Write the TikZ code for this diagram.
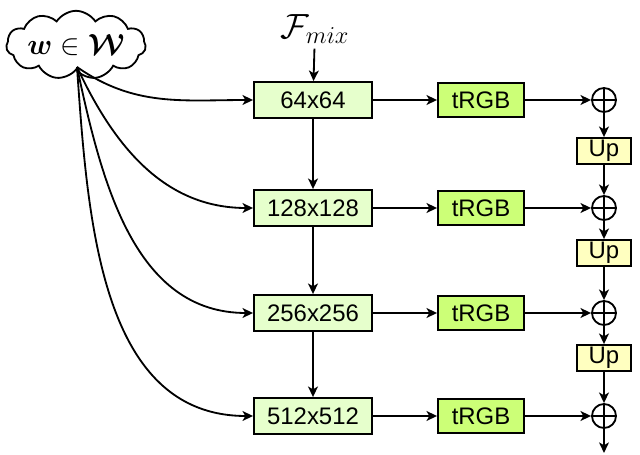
\documentclass[tikz,border=0pt]{standalone}
\usepackage{amsmath}
\usepackage{bm}
\usepackage{fontspec}
\setmainfont{Liberation Sans}
\usetikzlibrary{arrows.meta,shapes,shapes.symbols,positioning}
\definecolor{resgreen}{RGB}{230,255,204}
\definecolor{rgbgreen}{RGB}{204,255,119}
\definecolor{upyellow}{RGB}{255,255,192}
\tikzstyle{arrow} = [line width=1.3pt,->,>={Stealth[length=7.5pt,width=7pt,inset=2pt]}]
\tikzstyle{resbox} = [draw, line width=1.3pt, fill=resgreen, minimum width=2.95cm, minimum height=0.9cm, font=\fontsize{17}{19}\selectfont]
\tikzstyle{rgbbox} = [draw, line width=1.3pt, fill=rgbgreen, minimum width=2.15cm, minimum height=0.85cm, font=\fontsize{17}{19}\selectfont]
\tikzstyle{upbox} = [draw, line width=1.3pt, fill=upyellow, minimum width=1.33cm, minimum height=0.65cm, inner sep=1pt, font=\fontsize{17}{19}\selectfont]
\tikzstyle{sumnode} = [draw, circle, line width=1.3pt, minimum size=0.6cm, inner sep=0pt, path picture={\draw[line width=1.3pt] (path picture bounding box.north) -- (path picture bounding box.south) (path picture bounding box.west) -- (path picture bounding box.east);}]

\begin{document}
\begin{tikzpicture}[x=0.025cm, y=0.025cm]
\useasboundingbox (0,0) rectangle (640,455);

% Latent code and input feature
\node[cloud, draw, line width=1.3pt, cloud puffs=11, cloud puff arc=115, aspect=2.8, minimum width=3.4cm, minimum height=1.3cm, inner sep=0pt] (latent) at (76,410) {\fontsize{21}{23}\selectfont $\bm{w}\in\bm{\mathcal{W}}$};
\node (fmix) at (315,426) {\fontsize{23}{25}\selectfont $\mathcal{F}_{mix}$};
\coordinate (src) at (77,388);

% Resolution blocks
\node[resbox] (r64) at (313,355) {64x64};
\node[resbox] (r128) at (313,247) {128x128};
\node[resbox] (r256) at (313,142) {256x256};
\node[resbox] (r512) at (313,39) {512x512};

% toRGB blocks
\node[rgbbox] (t64) at (481,355) {tRGB};
\node[rgbbox] (t128) at (481,247) {tRGB};
\node[rgbbox] (t256) at (481,142) {tRGB};
\node[rgbbox] (t512) at (481,39) {tRGB};

% Sums and upsampling
\node[sumnode] (s64) at (604,355) {};
\node[sumnode] (s128) at (604,247) {};
\node[sumnode] (s256) at (604,142) {};
\node[sumnode] (s512) at (604,39) {};
\node[upbox] (u1) at (604,304) {Up};
\node[upbox] (u2) at (604,202) {Up};
\node[upbox] (u3) at (604,97) {Up};
\coordinate (out) at (604,2);

% Main path
\draw[arrow] (fmix) -- (r64);
\draw[arrow] (r64) -- (r128);
\draw[arrow] (r128) -- (r256);
\draw[arrow] (r256) -- (r512);

% Style inputs
\draw[arrow] (src) to[out=-35, in=180] (r64.west);
\draw[arrow] (src) to[out=-65, in=180] (r128.west);
\draw[arrow] (src) to[out=-78, in=180] (r256.west);
\draw[arrow] (src) to[out=-86, in=180] (r512.west);

% To RGB
\foreach \r in {64,128,256,512}{
  \draw[arrow] (r\r) -- (t\r);
  \draw[arrow] (t\r) -- (s\r);
}

% Skip connections
\draw[arrow] (s64) -- (u1);
\draw[arrow] (u1) -- (s128);
\draw[arrow] (s128) -- (u2);
\draw[arrow] (u2) -- (s256);
\draw[arrow] (s256) -- (u3);
\draw[arrow] (u3) -- (s512);
\draw[arrow] (s512) -- (out);
\end{tikzpicture}
\end{document}
